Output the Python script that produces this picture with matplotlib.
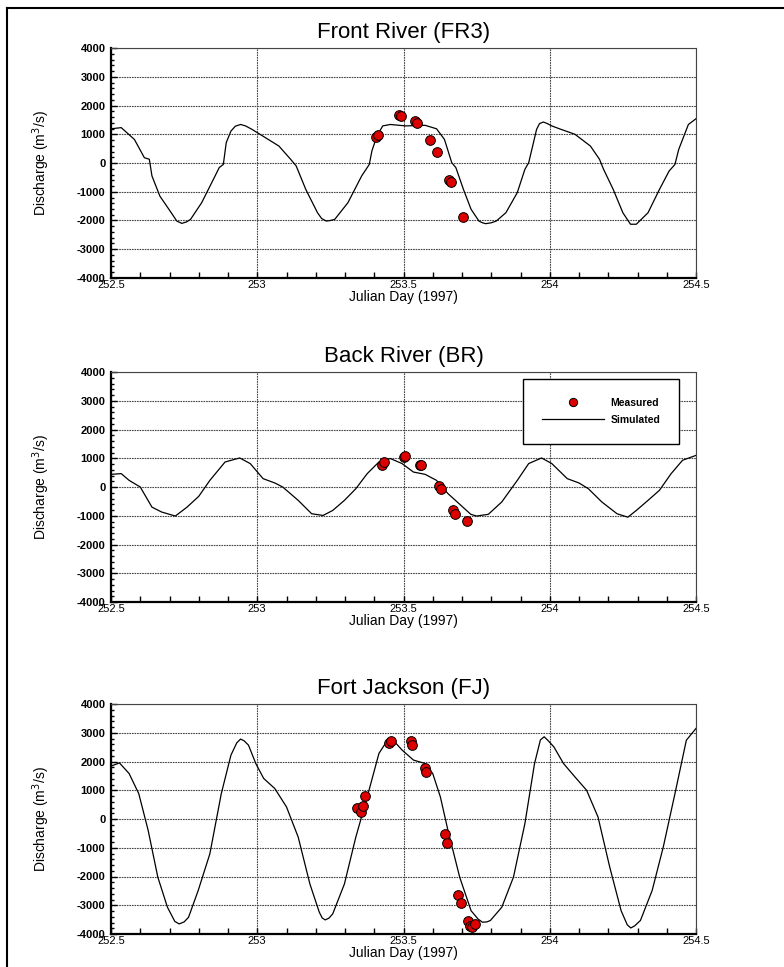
import numpy as np
import matplotlib
matplotlib.use("Agg")
import matplotlib.pyplot as plt
from matplotlib.ticker import MultipleLocator, FixedLocator, FixedFormatter
from matplotlib.lines import Line2D

plt.rcParams['font.family'] = ['Liberation Sans', 'DejaVu Sans']

titles = ["Front River (FR3)", "Back River (BR)", "Fort Jackson (FJ)"]

# Simulated series (Julian day, discharge m3/s)
fr_sim_t = [252.5, 252.535, 252.58, 252.614, 252.631, 252.64, 252.667, 252.706, 252.725, 252.742, 252.758, 252.772,
            252.81, 252.85, 252.87, 252.884, 252.894, 252.91, 252.925, 252.943, 252.96, 252.982, 253.009, 253.074,
            253.114, 253.133, 253.166, 253.206, 253.22, 253.236, 253.25, 253.265, 253.31, 253.357, 253.383, 253.392,
            253.409, 253.429, 253.455, 253.508, 253.574, 253.613, 253.64, 253.665, 253.679, 253.705,
            253.731, 253.758, 253.77, 253.781, 253.8, 253.817, 253.85, 253.889, 253.915, 253.928, 253.955, 253.965, 253.978,
            253.99, 254.007, 254.033, 254.086, 254.139, 254.17, 254.184, 254.217, 254.25, 254.276, 254.296,
            254.336, 254.375, 254.408, 254.428, 254.441, 254.474, 254.5]
fr_sim_q = [1190, 1230, 820, 185, 130, -450, -1150, -1730, -2020, -2100, -2050, -1960,
            -1380, -570, -160, -50, 710, 1110, 1280, 1340, 1290, 1170, 1000, 590,
            130, -100, -920, -1730, -1930, -2020, -2000, -1960, -1380, -450, -50, 420,
            940, 1290, 1340, 1290, 1310, 1190, 820, 10, -160, -920,
            -1610, -2020, -2080, -2110, -2080, -2020, -1730, -1030, -220, 10, 1170, 1370, 1425,
            1380, 1290, 1190, 1000, 590, 130, -220, -920, -1730, -2130, -2130,
            -1730, -920, -280, -50, 475, 1340, 1540]

br_sim_t = [252.5, 252.535, 252.562, 252.6, 252.64, 252.673, 252.72, 252.76, 252.8, 252.838,
            252.89, 252.94, 252.976, 253.02, 253.06, 253.087, 253.14, 253.186, 253.225, 253.258,
            253.298, 253.337, 253.376, 253.416, 253.455, 253.495, 253.534, 253.574, 253.613, 253.652,
            253.69, 253.73, 253.75, 253.79, 253.836, 253.889, 253.928, 253.972, 254.007, 254.06,
            254.1, 254.132, 254.178, 254.23, 254.267, 254.296, 254.336, 254.375, 254.415, 254.454,
            254.5]
br_sim_q = [440, 465, 230, 0, -700, -870, -1010, -700, -325, 230,
            870, 1010, 815, 290, 140, 0, -465, -930, -990, -815,
            -465, -60, 465, 870, 990, 815, 520, 440, 230, -230,
            -580, -950, -1010, -950, -520, 230, 815, 1010, 815, 290,
            140, -60, -520, -930, -1050, -815, -465, -115, 465, 930,
            1100]

fj_sim_t = [252.5, 252.529, 252.562, 252.595, 252.627, 252.66, 252.693, 252.718, 252.733, 252.75, 252.765, 252.798,
            252.838, 252.877, 252.91, 252.93, 252.943, 252.955, 252.97, 252.995, 253.022, 253.06, 253.1, 253.14,
            253.18, 253.212, 253.222, 253.232, 253.245, 253.258, 253.298, 253.337, 253.376, 253.416, 253.442, 253.452, 253.462,
            253.495, 253.534, 253.574, 253.6, 253.626, 253.652, 253.692, 253.731, 253.755, 253.77, 253.785, 253.797,
            253.836, 253.876, 253.915, 253.948, 253.968, 253.981, 253.995, 254.014, 254.047, 254.086, 254.126, 254.165,
            254.205, 254.244, 254.265, 254.277, 254.29, 254.31, 254.35, 254.388, 254.428, 254.467, 254.5]
fj_sim_q = [1840, 1950, 1580, 880, -395, -2020, -3070, -3560, -3650, -3580, -3420, -2490,
            -1210, 880, 2220, 2650, 2780, 2720, 2570, 1930, 1410, 1060, 420, -630,
            -2260, -3240, -3440, -3510, -3450, -3300, -2260, -630, 770, 2280, 2690, 2750, 2770,
            2400, 2050, 1930, 1580, 770, -395, -2020, -3190, -3480, -3590, -3580, -3530,
            -3070, -2020, -160, 1930, 2750, 2860, 2720, 2510, 1930, 1465, 1000, 70,
            -1670, -3190, -3680, -3790, -3720, -3530, -2490, -980, 880, 2740, 3150]

# Measured series
fr_obs_t = [253.405, 253.412, 253.484, 253.493, 253.541, 253.546, 253.589, 253.613, 253.656, 253.662, 253.702]
fr_obs_q = [915, 970, 1657, 1620, 1460, 1380, 810, 390, -590, -660, -1865]

br_obs_t = [253.426, 253.433, 253.501, 253.505, 253.555, 253.56, 253.622, 253.629, 253.67, 253.675, 253.717]
br_obs_q = [780, 870, 1050, 1080, 780, 755, 25, -70, -815, -930, -1185]

fj_obs_t = [253.34, 253.353, 253.363, 253.37, 253.449, 253.458, 253.524, 253.53, 253.574, 253.578,
            253.642, 253.648, 253.688, 253.695, 253.72, 253.729, 253.734, 253.744]
fj_obs_q = [395, 245, 465, 790, 2630, 2710, 2710, 2570, 1790, 1640,
            -510, -825, -2630, -2910, -3535, -3710, -3745, -3650]

x_ticks = [252.5, 253, 253.5, 254, 254.5]
x_tick_labels = ["252.5", "253", "253.5", "254", "254.5"]
y_ticks = [-4000, -3000, -2000, -1000, 0, 1000, 2000, 3000, 4000]
y_tick_labels = ["-4000", "-3000", "-2000", "-1000", "0", "1000", "2000", "3000", "4000"]

sims = [(fr_sim_t, fr_sim_q), (br_sim_t, br_sim_q), (fj_sim_t, fj_sim_q)]
obss = [(fr_obs_t, fr_obs_q), (br_obs_t, br_obs_q), (fj_obs_t, fj_obs_q)]

W, H = 784, 967
fig = plt.figure(figsize=(W / 100, H / 100), dpi=100)

# figure border (top and left)
fig.add_artist(Line2D([7 / W, 1.0], [1 - 8 / H, 1 - 8 / H], color='black', lw=1.5, transform=fig.transFigure))
fig.add_artist(Line2D([7 / W, 7 / W], [0, 1 - 8 / H], color='black', lw=1.5, transform=fig.transFigure))

ax_left, ax_w, ax_h = 111 / W, 585 / W, 230 / H
bottoms = [1 - 278 / H, 1 - 602 / H, 1 - 934 / H]

grid_ls = (0, (1.5, 0.8))
for i in range(3):
    ax = fig.add_axes([ax_left, bottoms[i], ax_w, ax_h])
    st, sq = sims[i]
    ot, oq = obss[i]
    ax.plot(st, sq, color='black', lw=0.9, label='Simulated', zorder=3)
    ax.plot(ot, oq, linestyle='none', marker='o', markersize=7, markerfacecolor='#dd0000',
            markeredgecolor='black', markeredgewidth=0.7, label='Measured', zorder=4)
    ax.set_xlim(252.5, 254.5)
    ax.set_ylim(-4000, 4000)
    ax.xaxis.set_major_locator(FixedLocator(x_ticks))
    ax.xaxis.set_major_formatter(FixedFormatter(x_tick_labels))
    ax.yaxis.set_major_locator(FixedLocator(y_ticks))
    ax.yaxis.set_major_formatter(FixedFormatter(y_tick_labels))
    ax.xaxis.set_minor_locator(MultipleLocator(0.1))
    ax.yaxis.set_minor_locator(MultipleLocator(200))
    ax.tick_params(axis='both', which='both', direction='in', top=False, right=False)
    ax.tick_params(axis='x', which='major', length=4, width=1, labelsize=8, pad=1.5)
    ax.tick_params(axis='x', which='minor', length=4, width=1)
    ax.tick_params(axis='y', which='major', length=4, width=1, labelsize=8, pad=4)
    ax.tick_params(axis='y', which='minor', length=2.5, width=1)
    for lab in ax.get_yticklabels():
        lab.set_fontweight('bold')
    ax.grid(True, which='major', color='#444444', linestyle=grid_ls, linewidth=0.8, zorder=1)
    for s in ['left', 'bottom']:
        ax.spines[s].set_linewidth(1.6)
    for s in ['top', 'right']:
        ax.spines[s].set_linewidth(0.8)
        ax.spines[s].set_linestyle(grid_ls)
        ax.spines[s].set_color('#444444')
    ax.set_title(titles[i], fontsize=16, pad=7)
    ax.set_xlabel('Julian Day (1997)', fontsize=10, labelpad=0)
    ax.set_ylabel('Discharge (m$^3$/s)', fontsize=10, labelpad=18)
    if i == 1:
        handles, labels = ax.get_legend_handles_labels()
        leg = ax.legend([handles[1], handles[0]], [labels[1], labels[0]],
                        loc='upper right', bbox_to_anchor=(0.971, 0.970), borderaxespad=0,
                        fancybox=False, framealpha=1, edgecolor='black',
                        prop={'weight': 'bold', 'size': 7.5},
                        handlelength=6, handletextpad=0.6, borderpad=1.8, labelspacing=0.7,
                        markerscale=0.85)
        leg.get_frame().set_linewidth(1.0)
        leg.set_zorder(10)

fig.savefig('out.png', dpi=100)
